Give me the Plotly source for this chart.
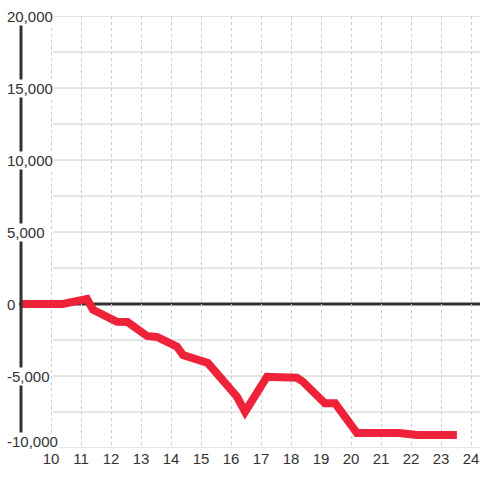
import plotly.graph_objects as go

# Data
x_vals = [9, 10.4, 11.2, 11.4, 12.2, 12.55, 13.2, 13.55, 14.2, 14.4, 15.23, 16.2, 16.47,
          17.2, 18.2, 18.4, 19.13, 19.47, 20.2, 20.97, 21.6, 22.2, 23.53]
y_vals = [0, 0, 350, -400, -1230, -1250, -2220, -2300, -2960, -3540, -4100, -6440, -7480,
          -5050, -5120, -5400, -6900, -6900, -8960, -8960, -8960, -9100, -9100]
x_ticks = list(range(10, 25))
y_tick_vals = [20000, 15000, 10000, 5000, 0, -5000, -10000]
y_tick_text = ["20,000", "15,000", "10,000", "5,000", "0", "-5,000", "-10,000"]
y_grid_vals = [-10000, -7500, -5000, -2500, 2500, 5000, 7500, 10000, 12500, 15000, 17500, 20000]

DARK = "#333333"
GRID = "#cccccc"
RED = "#ee2239"

L = 19
PW = 480 - L
x_min = 10 - (51 - L) / 30

fig = go.Figure()
fig.add_trace(go.Scatter(x=x_vals, y=y_vals, mode="lines",
                         line=dict(color=RED, width=8), hoverinfo="skip"))

shapes = []
grid_x0 = (53 - L) / PW
for gv in y_grid_vals:
    shapes.append(dict(type="line", xref="paper", yref="y", x0=grid_x0, x1=1, y0=gv, y1=gv,
                       line=dict(color=GRID, width=1), layer="below"))
# zero line
shapes.append(dict(type="line", xref="paper", yref="y", x0=0, x1=1, y0=0, y1=0,
                   line=dict(color=DARK, width=3), layer="below"))
# y axis line
shapes.append(dict(type="line", xref="paper", yref="paper", x0=2 / PW, x1=2 / PW, y0=0, y1=1,
                   line=dict(color=DARK, width=3), layer="above"))

annotations = []
for v, t in zip(y_tick_vals, y_tick_text):
    annotations.append(dict(xref="paper", yref="y", x=(6 - L) / PW, y=v, text=t,
                            xanchor="left", yanchor="middle", showarrow=False,
                            bgcolor="white", borderpad=0,
                            yshift=7 if v == -10000 else 0,
                            font=dict(size=15, color=DARK)))

fig.update_layout(
    width=480, height=480,
    margin=dict(l=L, r=0, t=16, b=32, autoexpand=False),
    paper_bgcolor="white", plot_bgcolor="white",
    showlegend=False,
    font=dict(family="Liberation Sans, Arial, sans-serif", size=15, color=DARK),
    shapes=shapes, annotations=annotations,
    xaxis=dict(range=[x_min, 24.3], tickvals=x_ticks, ticktext=[str(t) for t in x_ticks],
               showgrid=True, gridcolor=GRID, griddash="dot", gridwidth=1,
               zeroline=False, showline=False, ticks="", ticklen=0, automargin=False,
               tickfont=dict(size=15, color=DARK), fixedrange=True),
    yaxis=dict(range=[-10000, 20000], showgrid=False, zeroline=False, automargin=False,
               showticklabels=False, showline=False, fixedrange=True),
)

fig.write_html("out.html", config={"displayModeBar": False},
               post_script="document.body.style.margin='0';document.body.style.padding='0';")
